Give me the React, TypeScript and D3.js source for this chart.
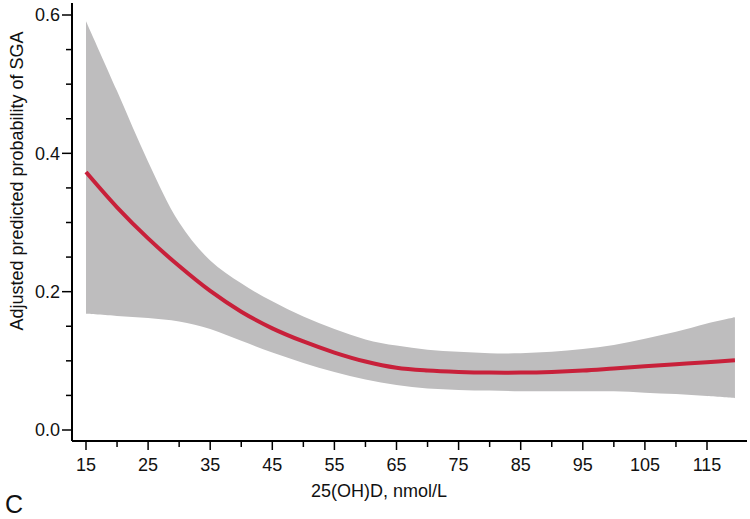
import React from "react";
import * as d3 from "d3";

const xValues = [15, 20, 25, 30, 35, 40, 45, 50, 55, 60, 65, 70, 75, 80, 85, 90, 95, 100, 105, 110, 115, 119.5];
const fitValues = [0.373, 0.322, 0.277, 0.237, 0.201, 0.171, 0.147, 0.128, 0.112, 0.099, 0.090, 0.086, 0.084, 0.083, 0.083, 0.084, 0.086, 0.089, 0.092, 0.095, 0.098, 0.101];
const upperValues = [0.591, 0.49, 0.388, 0.300, 0.245, 0.212, 0.186, 0.164, 0.146, 0.131, 0.122, 0.116, 0.113, 0.111, 0.111, 0.113, 0.117, 0.123, 0.132, 0.142, 0.154, 0.163];
const lowerValues = [0.168, 0.165, 0.162, 0.157, 0.146, 0.129, 0.112, 0.097, 0.084, 0.073, 0.065, 0.060, 0.058, 0.057, 0.056, 0.056, 0.056, 0.056, 0.054, 0.052, 0.049, 0.046];

const xMajorTicks = [15, 25, 35, 45, 55, 65, 75, 85, 95, 105, 115];
const xMinorTicks = [20, 30, 40, 50, 60, 70, 80, 90, 100, 110];
const yMajorTicks = [0, 0.2, 0.4, 0.6];
const yMinorTicks = [0.05, 0.1, 0.15, 0.25, 0.3, 0.35, 0.45, 0.5, 0.55];

const xTitle = "25(OH)D, nmol/L";
const yTitle = "Adjusted predicted probability of SGA";
const panelLabel = "C";

export default function App() {
  const W = 750, H = 519;
  const x = d3.scaleLinear().domain([15, 115]).range([86, 707]);
  const y = d3.scaleLinear().domain([0, 0.6]).range([430, 15]);
  const axisX0 = 72, axisY = 441, axisRight = 747, axisTop = 3;

  const idx = xValues.map((_, i) => i);
  const curve = d3.curveCatmullRom.alpha(0.5);
  const area = d3
    .area<number>()
    .x((i) => x(xValues[i]))
    .y0((i) => y(lowerValues[i]))
    .y1((i) => y(upperValues[i]))
    .curve(curve);
  const line = d3
    .line<number>()
    .x((i) => x(xValues[i]))
    .y((i) => y(fitValues[i]))
    .curve(curve);

  const font = "Arial, 'Liberation Sans', Helvetica, sans-serif";

  return (
    <svg width={W} height={H} style={{ position: "absolute", left: 0, top: 0 }} fontFamily={font}>
      <rect x={0} y={0} width={W} height={H} fill="#fff" />
      <path d={area(idx) || ""} fill="#bebdbe" stroke="none" />
      <path d={line(idx) || ""} fill="none" stroke="#c8203a" strokeWidth={4} />

      {/* Y axis */}
      <line x1={axisX0} x2={axisX0} y1={axisTop} y2={axisY} stroke="#000" strokeWidth={2} />
      {yMajorTicks.map((t) => (
        <g key={"ym" + t}>
          <line x1={axisX0 - 10} x2={axisX0} y1={y(t)} y2={y(t)} stroke="#000" strokeWidth={1.5} />
          <text x={axisX0 - 12} y={y(t)} dy="0.35em" textAnchor="end" fontSize={18} fill="#111">
            {t.toFixed(1)}
          </text>
        </g>
      ))}
      {yMinorTicks.map((t) => (
        <line key={"yn" + t} x1={axisX0 - 6} x2={axisX0} y1={y(t)} y2={y(t)} stroke="#000" strokeWidth={1.5} />
      ))}

      {/* X axis */}
      <line x1={axisX0} x2={axisRight} y1={axisY} y2={axisY} stroke="#000" strokeWidth={2} />
      {xMajorTicks.map((t) => (
        <g key={"xm" + t}>
          <line x1={x(t)} x2={x(t)} y1={axisY} y2={axisY + 9} stroke="#000" strokeWidth={1.5} />
          <text x={x(t)} y={471} textAnchor="middle" fontSize={18} fill="#111">
            {t}
          </text>
        </g>
      ))}
      {xMinorTicks.map((t) => (
        <line key={"xn" + t} x1={x(t)} x2={x(t)} y1={axisY} y2={axisY + 6} stroke="#000" strokeWidth={1.5} />
      ))}

      <text x={379} y={497} textAnchor="middle" fontSize={18} fill="#111">
        {xTitle}
      </text>
      <text transform={`translate(23,181) rotate(-90)`} textAnchor="middle" fontSize={18} fill="#111">
        {yTitle}
      </text>
      <text x={5} y={513} fontSize={25} fill="#111">
        {panelLabel}
      </text>
    </svg>
  );
}
